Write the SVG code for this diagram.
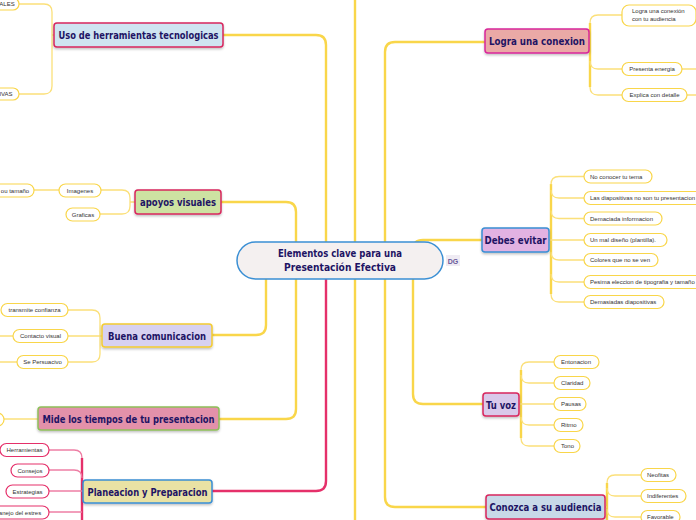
<svg xmlns="http://www.w3.org/2000/svg" width="696" height="520" viewBox="0 0 696 520">
<defs>
<filter id="sh" x="-10%" y="-20%" width="120%" height="150%"><feDropShadow dx="0" dy="1.5" stdDeviation="1" flood-color="#000" flood-opacity="0.25"/></filter>
<style>
.main{stroke-width:1.5;filter:url(#sh)}
.mt{font-family:"DejaVu Sans Condensed","Liberation Sans",sans-serif;font-size:11px;font-weight:bold;fill:#1e1464;text-anchor:middle}
.leaf{fill:#fff;stroke:#f9d64a;stroke-width:1.2}
.leafp{fill:#fff;stroke:#e5306a;stroke-width:1.2}
.lt{font-family:"Liberation Sans",Arial,sans-serif;font-size:6px;fill:#333;text-anchor:middle}
.ls{font-family:"Liberation Sans",Arial,sans-serif;font-size:6px;fill:#333;text-anchor:start}
.ly{fill:none;stroke:#f9d64a;stroke-width:2.4}
.lyl{fill:none;stroke:#fbe07a;stroke-width:1.3}
.lp{fill:none;stroke:#e5306a;stroke-width:2.4}
.lpl{fill:none;stroke:#ee7fa5;stroke-width:1.3}
</style>
</defs>
<rect width="696" height="520" fill="#fff"/>
<g id="connectors">
<path class="ly" d="M355,0 V520" stroke-width="3"/>
<path class="ly" d="M223,35 H316 Q326,35 326,45 V260"/>
<path class="ly" d="M221,202 H286 Q296,202 296,212 V260"/>
<path class="ly" d="M212,335 H256 Q266,335 266,325 V260"/>
<path class="ly" d="M219,419 H286 Q296,419 296,409 V260"/>
<path class="lp" d="M212,491 H316 Q326,491 326,481 V260"/>
<path class="ly" d="M385,260 V52 Q385,42 395,42 H485"/>
<path class="ly" d="M413,260 V250 Q413,240 423,240 H482"/>
<path class="ly" d="M413,260 V394 Q413,404 423,404 H483"/>
<path class="ly" d="M385,260 V497 Q385,507 395,507 H486"/>
<path class="lyl" d="M19,4 H44 Q52,4 52,12 V86 Q52,94 44,94 H19 M52,35 H54"/>
<path class="lyl" d="M101,190 H122 Q130,190 130,198 V206 Q130,214 122,214 H100 M130,202 H135 M34,190 H59"/>
<path class="lyl" d="M68,310 H92 Q100,310 100,318 V354 Q100,362 92,362 H68 M68,336 H102 M0,336 H13 M0,362 H17"/>
<path class="lyl" d="M4,419 H38"/>
<path class="lp" d="M82,458 V520"/>
<path class="lpl" d="M49,450 H74 Q82,450 82,458 M49,470 H74 Q82,470 82,478 M49,491 H83 M49,512 H82"/>
<path class="ly" d="M590,23 V87"/>
<path class="lyl" d="M622,15 H598 Q590,15 590,23 M590,61 Q590,69 598,69 H622 M590,87 Q590,95 598,95 H622 M589,41 H590 M682,69 H696 M687,95 H696"/>
<path class="ly" d="M551,184 V294"/>
<path class="lyl" d="M584,176.5 H559 Q551,176.5 551,184.5 M551,190 Q551,198 559,198 H584 M551,210.5 Q551,218.5 559,218.5 H584 M549,240 H584 M551,252 Q551,260 559,260 H584 M551,274 Q551,282 559,282 H584 M551,294 Q551,302 559,302 H584"/>
<path class="ly" d="M521,370 V438"/>
<path class="lyl" d="M554,362 H529 Q521,362 521,370 M521,375 Q521,383 529,383 H554 M519,404 H554 M521,417 Q521,425 529,425 H554 M521,438 Q521,446 529,446 H554"/>
<path class="ly" d="M607,483 V520"/>
<path class="lyl" d="M641,475 H615 Q607,475 607,483 M607,488 Q607,496 615,496 H641 M605,507 H607 M607,509 Q607,517 615,517 H641"/>
</g>
<g id="center">
<rect x="237" y="242" width="206" height="37" rx="18.5" fill="#f4f0f0" stroke="#3a8fd4" stroke-width="1.5"/>
<text class="mt" x="340" y="257" textLength="124" lengthAdjust="spacingAndGlyphs">Elementos clave para una</text>
<text class="mt" x="340" y="271" textLength="112" lengthAdjust="spacingAndGlyphs">Presentación Efectiva</text>
</g>
<g id="dg">
<rect x="446" y="255" width="14" height="11" fill="#efebf3"/>
<text x="453" y="263.5" font-family="Liberation Sans,sans-serif" font-size="7" font-weight="bold" fill="#6a5a9a" text-anchor="middle">DG</text>
</g>
<g id="uso">
<rect class="main" x="54" y="23" width="169" height="24" rx="3" fill="#cfe4f1" stroke="#d8265d"/>
<text class="mt" x="138.5" y="39" textLength="160" lengthAdjust="spacingAndGlyphs">Uso de herramientas tecnologicas</text>
</g>
<g id="uso-1"><rect class="leaf" x="-40" y="-2" width="59" height="12" rx="6"/><text class="lt" x="7" y="6">ALES</text></g>
<g id="uso-2"><rect class="leaf" x="-40" y="88" width="59" height="12" rx="6"/><text class="lt" x="6" y="96">IVAS</text></g>
<g id="apoyos">
<rect class="main" x="135" y="190" width="86" height="24" rx="3" fill="#cde2a2" stroke="#d8265d"/>
<text class="mt" x="178" y="206" textLength="76" lengthAdjust="spacingAndGlyphs">apoyos visuales</text>
</g>
<g id="imagenes"><rect class="leaf" x="59" y="184" width="42" height="13" rx="6.5"/><text class="lt" x="80" y="192.5">Imagenes</text></g>
<g id="tamano"><rect class="leaf" x="-30" y="184" width="64" height="13" rx="6.5"/><text class="lt" x="15" y="192.5">ou tamaño</text></g>
<g id="graficas"><rect class="leaf" x="66" y="208" width="34" height="13" rx="6.5"/><text class="lt" x="83" y="216.5">Graficas</text></g>
<g id="buena">
<rect class="main" x="102" y="324" width="110" height="23" rx="3" fill="#d7d1f1" stroke="#f4cc30"/>
<text class="mt" x="157" y="339.5" textLength="98" lengthAdjust="spacingAndGlyphs">Buena comunicacion</text>
</g>
<g id="confianza"><rect class="leaf" x="1" y="303.5" width="67" height="13" rx="6.5"/><text class="lt" x="34.5" y="312">transmite confianza</text></g>
<g id="contacto"><rect class="leaf" x="13" y="329.5" width="55" height="13" rx="6.5"/><text class="lt" x="40.5" y="338">Contacto visual</text></g>
<g id="persuacivo"><rect class="leaf" x="17" y="355.5" width="51" height="13" rx="6.5"/><text class="lt" x="42.5" y="364">Se Persuacivo</text></g>
<g id="mide">
<rect class="main" x="38" y="407" width="181" height="23" rx="3" fill="#e391aa" stroke="#8fbf5a"/>
<text class="mt" x="128.5" y="422.5" textLength="172" lengthAdjust="spacingAndGlyphs">Mide los tiempos de tu presentacion</text>
</g>
<g id="mide-1"><rect class="leaf" x="-20" y="413" width="24" height="13" rx="6.5"/></g>
<g id="planeacion">
<rect class="main" x="83" y="480" width="129" height="23" rx="3" fill="#e9e2a4" stroke="#3a8fd4"/>
<text class="mt" x="147.5" y="495.5" textLength="120" lengthAdjust="spacingAndGlyphs">Planeacion y Preparacion</text>
</g>
<g id="herramientas"><rect class="leafp" x="0" y="443.5" width="49" height="13" rx="6.5"/><text class="lt" x="24.5" y="452">Herramientas</text></g>
<g id="consejos"><rect class="leafp" x="11" y="464" width="38" height="13" rx="6.5"/><text class="lt" x="30" y="472.5">Consejos</text></g>
<g id="estrategias"><rect class="leafp" x="6" y="485" width="43" height="13" rx="6.5"/><text class="lt" x="27.5" y="493.5">Estrategias</text></g>
<g id="estres"><rect class="leafp" x="-20" y="506" width="69" height="13" rx="6.5"/><text class="lt" x="20" y="514.5">anejo del estres</text></g>
<g id="logra">
<rect class="main" x="485" y="29" width="104" height="24" rx="3" fill="#eaa9a6" stroke="#d8269a"/>
<text class="mt" x="537" y="45" textLength="96" lengthAdjust="spacingAndGlyphs">Logra una conexion</text>
</g>
<g id="conexion"><rect class="leaf" x="622" y="5" width="74" height="21" rx="7"/><text class="ls" x="632" y="13">Logra una conexión</text><text class="ls" x="632" y="20.5">con tu audiencia</text></g>
<g id="energia"><rect class="leaf" x="622" y="62.5" width="60" height="13" rx="6.5"/><text class="lt" x="652" y="71">Presenta energia</text></g>
<g id="detalle"><rect class="leaf" x="622" y="88.5" width="65" height="13" rx="6.5"/><text class="lt" x="654.5" y="97">Explica con detalle</text></g>
<g id="debes">
<rect class="main" x="482" y="228" width="67" height="24" rx="3" fill="#e2b2e2" stroke="#3a8fd4"/>
<text class="mt" x="515.5" y="244" textLength="62" lengthAdjust="spacingAndGlyphs">Debes evitar</text>
</g>
<g id="d1"><rect class="leaf" x="584" y="170" width="68" height="13" rx="6.5"/><text class="ls" x="590" y="178.5">No conocer tu tema</text></g>
<g id="d2"><rect class="leaf" x="584" y="191.5" width="130" height="13" rx="6.5"/><text class="ls" x="590" y="200">Las diapositivas no son tu presentacion</text></g>
<g id="d3"><rect class="leaf" x="584" y="212" width="78" height="13" rx="6.5"/><text class="ls" x="590" y="220.5">Demaciada informacion</text></g>
<g id="d4"><rect class="leaf" x="584" y="233.5" width="83" height="13" rx="6.5"/><text class="ls" x="590" y="242">Un mal diseño (plantilla).</text></g>
<g id="d5"><rect class="leaf" x="584" y="253.5" width="74" height="13" rx="6.5"/><text class="ls" x="590" y="262">Colores que no se ven</text></g>
<g id="d6"><rect class="leaf" x="584" y="275.5" width="130" height="13" rx="6.5"/><text class="ls" x="590" y="284">Pesima eleccion de tipografia y tamaño</text></g>
<g id="d7"><rect class="leaf" x="584" y="295.5" width="80" height="13" rx="6.5"/><text class="ls" x="590" y="304">Demasiadas diapositivas</text></g>
<g id="tuvoz">
<rect class="main" x="483" y="393" width="36" height="23" rx="3" fill="#d9c9ea" stroke="#d8265d"/>
<text class="mt" x="501" y="408.5" textLength="30" lengthAdjust="spacingAndGlyphs">Tu voz</text>
</g>
<g id="v1"><rect class="leaf" x="554" y="355.5" width="45" height="13" rx="6.5"/><text class="ls" x="561" y="364">Entonacion</text></g>
<g id="v2"><rect class="leaf" x="554" y="376.5" width="36" height="13" rx="6.5"/><text class="ls" x="561" y="385">Claridad</text></g>
<g id="v3"><rect class="leaf" x="554" y="397.5" width="32" height="13" rx="6.5"/><text class="ls" x="561" y="406">Pausas</text></g>
<g id="v4"><rect class="leaf" x="554" y="418.5" width="29" height="13" rx="6.5"/><text class="ls" x="561" y="427">Ritmo</text></g>
<g id="v5"><rect class="leaf" x="554" y="439.5" width="26" height="13" rx="6.5"/><text class="ls" x="561" y="448">Tono</text></g>
<g id="conozca">
<rect class="main" x="486" y="495" width="119" height="24" rx="3" fill="#c8d9e8" stroke="#d8265d"/>
<text class="mt" x="545.5" y="511" textLength="112" lengthAdjust="spacingAndGlyphs">Conozca a su audiencia</text>
</g>
<g id="a1"><rect class="leaf" x="641" y="468.5" width="35" height="13" rx="6.5"/><text class="ls" x="647" y="477">Neofitas</text></g>
<g id="a2"><rect class="leaf" x="641" y="489.5" width="45" height="13" rx="6.5"/><text class="ls" x="647" y="498">Indiferentes</text></g>
<g id="a3"><rect class="leaf" x="641" y="510.5" width="39" height="13" rx="6.5"/><text class="ls" x="647" y="519">Favorable</text></g>
</svg>
